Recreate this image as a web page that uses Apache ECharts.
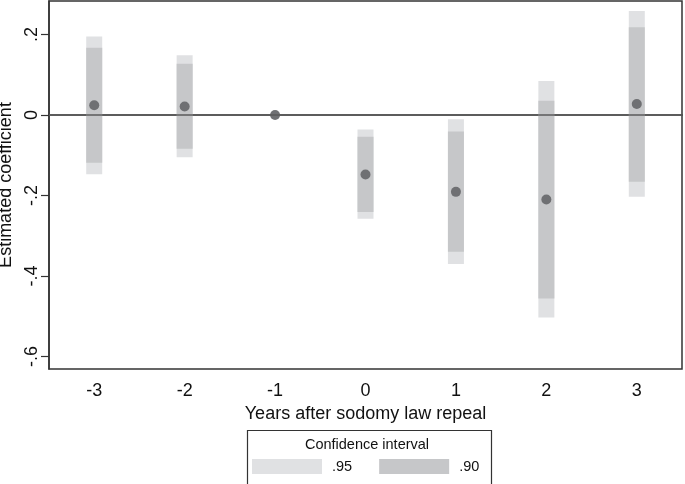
<!DOCTYPE html>
<html>
<head>
<meta charset="utf-8">
<script src="https://cdn.jsdelivr.net/npm/echarts@6/dist/echarts.min.js"></script>
<style>html,body{margin:0;padding:0;background:#fff;}#c{width:685px;height:484px;}</style>
</head>
<body>
<div id="c"></div>
<script>
// Data
var years = ['-3', '-2', '-1', '0', '1', '2', '3'];
var coef  = [0.024, 0.021, 0, -0.148, -0.191, -0.210, 0.027];
var lo90  = [-0.119, -0.084, null, -0.241, -0.340, -0.456, -0.166];
var hi90  = [0.167, 0.127, null, -0.054, -0.041, 0.035, 0.218];
var lo95  = [-0.147, -0.105, null, -0.258, -0.370, -0.503, -0.203];
var hi95  = [0.195, 0.148, null, -0.036, -0.011, 0.084, 0.258];
var yTicks = [-0.6, -0.4, -0.2, 0, 0.2];

var FONT = 'Liberation Sans, Arial, sans-serif';
var C95 = '#e0e1e3', C90 = '#c6c7c9', CDOT = '#6f7073';

function fmt(v) {
  if (Math.abs(v) < 1e-9) return '0';
  var s = Math.abs(v).toFixed(1).replace(/^0/, '');
  return (v < 0 ? '-' : '') + s;
}

function rangeData(lo, hi) {
  return years.map(function (y, i) { return [i, lo[i], hi[i]]; });
}

function renderRange(params, api) {
  var lo = api.value(1), hi = api.value(2);
  if (lo === null || hi === null || isNaN(lo) || isNaN(hi)) return;
  var p1 = api.coord([api.value(0), hi]);
  var p2 = api.coord([api.value(0), lo]);
  var w = 16;
  return {
    type: 'rect',
    shape: { x: p1[0] - w / 2, y: p1[1], width: w, height: p2[1] - p1[1] },
    style: { fill: api.visual('color') }
  };
}

var chart = echarts.init(document.getElementById('c'), null, { renderer: 'canvas' });
chart.setOption({
  animation: false,
  backgroundColor: '#fff',
  textStyle: { fontFamily: FONT },
  grid: { left: 49, right: 3, top: 1, bottom: 115, outerBoundsMode: 'none', containLabel: false, show: true, borderColor: '#333', borderWidth: 1.5, backgroundColor: 'transparent' },
  xAxis: {
    type: 'category',
    data: years,
    boundaryGap: true,
    name: 'Years after sodomy law repeal',
    nameLocation: 'middle',
    nameGap: 35,
    nameTextStyle: { fontSize: 18, color: '#111', fontFamily: FONT },
    axisLine: { lineStyle: { color: '#333', width: 1.5 } },
    axisTick: { alignWithLabel: true, length: 8, lineStyle: { color: '#333', width: 1.2 } },
    axisLabel: { fontSize: 18, color: '#111', margin: 13, fontFamily: FONT },
    splitLine: { show: false }
  },
  yAxis: {
    type: 'value',
    min: -0.631,
    max: 0.283,
    name: 'Estimated coefficient',
    nameLocation: 'middle',
    nameGap: 23,
    nameRotate: 90,
    nameTextStyle: { fontSize: 18, color: '#111', fontFamily: FONT },
    axisLine: { show: true, lineStyle: { color: '#333', width: 1.5 } },
    axisTick: { show: true, length: 8, customValues: yTicks, lineStyle: { color: '#333', width: 1.2 } },
    axisLabel: { fontSize: 18, color: '#111', rotate: 90, margin: 8, customValues: yTicks, formatter: fmt, fontFamily: FONT },
    splitLine: { show: false }
  },
  legend: {
    left: 252,
    top: 459,
    itemWidth: 70,
    itemHeight: 15,
    itemGap: 27,
    icon: 'rect',
    padding: 0,
    textStyle: { fontSize: 14.5, color: '#111', fontFamily: FONT, padding: [0, 0, 0, 5] },
    data: ['.95', '.90']
  },
  graphic: [
    { type: 'rect', left: 245, top: 428, shape: { width: 244, height: 55 }, style: { fill: 'none', stroke: '#333', lineWidth: 1.2 }, z: 10 },
    { type: 'text', x: 367, y: 445, style: { text: 'Confidence interval', font: '14.5px ' + FONT, fill: '#111', textAlign: 'center', textVerticalAlign: 'middle' }, z: 10 }
  ],
  series: [
    {
      name: 'zero', type: 'custom', z: 1, data: [],
      renderItem: function () { return; },
      markLine: { silent: true, symbol: 'none', label: { show: false }, lineStyle: { color: '#5a5a5a', width: 1.5, type: 'solid' }, data: [{ yAxis: 0 }] }
    },
    { name: '.95', type: 'custom', z: 2, itemStyle: { color: C95 }, renderItem: renderRange, encode: { x: 0, y: [1, 2] }, data: rangeData(lo95, hi95) },
    { name: '.90', type: 'custom', z: 3, itemStyle: { color: C90 }, renderItem: renderRange, encode: { x: 0, y: [1, 2] }, data: rangeData(lo90, hi90) },
    { name: 'coef', type: 'scatter', z: 4, symbol: 'circle', symbolSize: 10, itemStyle: { color: CDOT, opacity: 1 }, data: coef }
  ]
});
</script>
</body>
</html>
